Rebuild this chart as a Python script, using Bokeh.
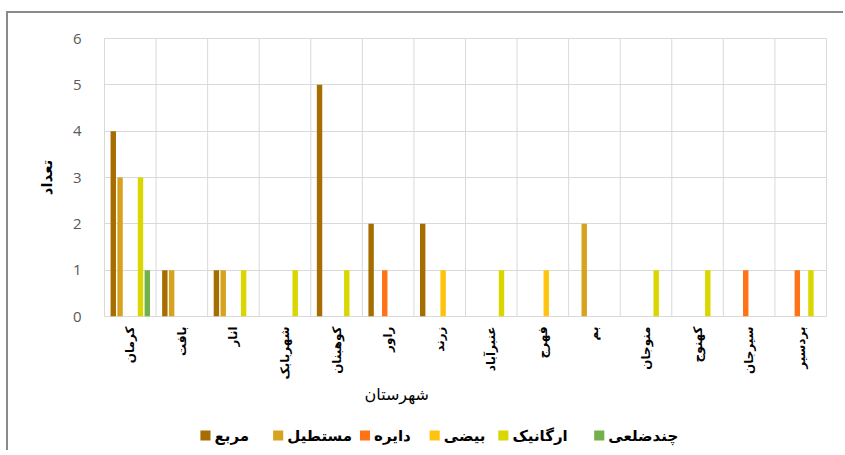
from bokeh.plotting import figure
from bokeh.layouts import column
from bokeh.models import FactorRange, Span, FixedTicker, ColumnDataSource, Title
from bokeh.core.properties import value
from bokeh.transform import dodge
from bokeh.embed import file_html
from bokeh.resources import INLINE
import math

cities = ["کرمان", "بافت", "انار", "شهربابک", "کوهبنان", "راور", "زرند",
          "عنبرآباد", "فهرج", "بم", "منوجان", "کهنوج", "سیرجان", "بردسیر"]

series_names = ["مربع", "مستطیل", "دایره", "بیضی", "ارگانیک", "چندضلعی"]
square = [4, 1, 1, 0, 5, 2, 2, 0, 0, 0, 0, 0, 0, 0]
rectangle = [3, 1, 1, 0, 0, 0, 0, 0, 0, 2, 0, 0, 0, 0]
circle = [0, 0, 0, 0, 0, 1, 0, 0, 0, 0, 0, 0, 1, 1]
ellipse = [0, 0, 0, 0, 0, 0, 1, 0, 1, 0, 0, 0, 0, 0]
organic = [3, 0, 1, 1, 1, 0, 0, 1, 0, 0, 1, 1, 0, 1]
polygon = [1, 0, 0, 0, 0, 0, 0, 0, 0, 0, 0, 0, 0, 0]
colors = ["#A66E00", "#D7A21E", "#FF7316", "#FFC30F", "#DAD600", "#72B04A"]

y_ticks = [0, 1, 2, 3, 4, 5, 6]
x_title = "شهرستان"
y_title = "تعداد"

src = ColumnDataSource(dict(city=cities, s0=square, s1=rectangle, s2=circle,
                            s3=ellipse, s4=organic, s5=polygon))

FA = "DejaVu Sans"

p = figure(x_range=FactorRange(*cities), y_range=(0, 6),
           frame_width=722, frame_height=278, output_backend="svg", toolbar_location=None,
           min_border_left=96, min_border_top=25, min_border_right=10,
           min_border_bottom=104)

step = 0.132
for k, col in enumerate(colors):
    off = (k - 2.5) * step
    p.vbar(x=dodge("city", off, range=p.x_range), top="s%d" % k, width=0.105,
           source=src, fill_color=col, line_color=None)

for i in range(len(cities) + 1):
    p.add_layout(Span(location=i, dimension="height", line_color="#D9D9D9", line_width=1))

p.outline_line_color = "#D9D9D9"
p.xgrid.grid_line_color = None
p.ygrid.grid_line_color = "#D9D9D9"

p.yaxis.ticker = FixedTicker(ticks=y_ticks)
p.yaxis.axis_line_color = None
p.yaxis.major_tick_line_color = None
p.yaxis.minor_tick_line_color = None
p.yaxis.major_label_text_font = "Open Sans"
p.yaxis.major_label_text_font_size = "15px"
p.yaxis.major_label_text_color = "#595959"
p.yaxis.major_label_standoff = 17
p.yaxis.axis_label = y_title
p.yaxis.axis_label_text_font = FA
p.yaxis.axis_label_text_font_style = "bold"
p.yaxis.axis_label_text_font_size = "15px"
p.yaxis.axis_label_text_color = "#000000"
p.yaxis.axis_label_standoff = 14

p.xaxis.axis_line_color = None
p.xaxis.major_tick_line_color = None
p.xaxis.minor_tick_line_color = None
p.xaxis.major_label_orientation = math.pi / 2
p.xaxis.major_label_text_font = FA
p.xaxis.major_label_text_font_style = "bold"
p.xaxis.major_label_text_font_size = "12px"
p.xaxis.major_label_text_color = "#000000"
p.xaxis.major_label_standoff = 4

p.add_layout(Title(text=x_title, align="left", offset=260, text_font=FA,
                   text_font_size="16px", text_font_style="normal",
                   text_color="#000000", standoff=0), "below")

# legend strip: its frame is aligned with the main frame (page x 104..826),
# so the x range maps 1 unit to 1 page pixel
legend_text_x = [213, 285, 371, 440, 508, 603]
lp = figure(width=835, height=30, output_backend="svg", toolbar_location=None,
            x_range=(104, 826), y_range=(0, 30), x_axis_location=None, y_axis_location=None,
            min_border=0)
lp.outline_line_color = None
lp.grid.grid_line_color = None
lsrc = ColumnDataSource(dict(tx=legend_text_x, gx=[t - 9 for t in legend_text_x],
                             y=[15] * len(series_names), label=series_names, color=colors))
lp.rect(x="gx", y="y", width=10, height=10, fill_color="color", line_color=None, source=lsrc)
lp.text(x="tx", y="y", text="label", source=lsrc, text_align="left", text_baseline="middle",
        text_font=value(FA), text_font_size="15px", text_font_style="bold", text_color="#000000")

layout = column(p, lp, spacing=0)
layout.styles = {"margin-left": "6px", "margin-top": "11px",
                 "border-top": "2px solid #8a8a8a", "border-left": "2px solid #8a8a8a"}

open("out.html", "w").write(file_html(layout, INLINE))
